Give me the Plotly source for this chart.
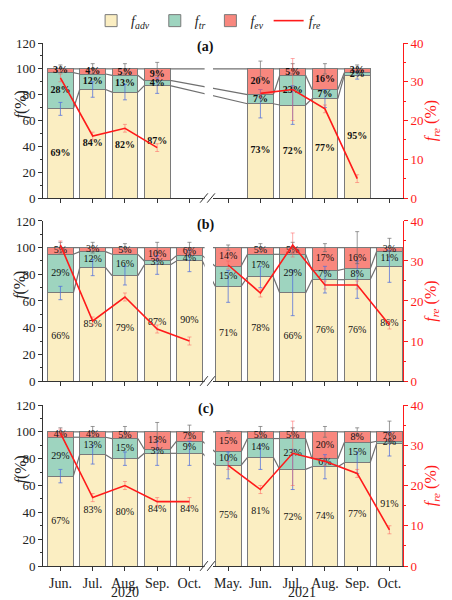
import plotly.graph_objects as go

# ---- data ----
months = ["Jun.", "Jul.", "Aug.", "Sep.", "Oct.", "May.", "Jun.", "Jul.", "Aug.", "Sep.", "Oct."]
years = ["2020", "2021"]
panel_tags = ["(a)", "(b)", "(c)"]

adv_a = [69, 84, 82, 87, None, None, 73, 72, 77, 95, None]
tr_a = [28, 12, 13, 4, None, None, 7, 23, 7, 2, None]
ev_a = [3, 4, 5, 9, None, None, 20, 5, 16, 3, None]
re_a = [31, 16, 18, 13, None, None, 27, 28, 23, 5, None]
adv_err_a = [5, 6, 6, 6, None, None, 11, 15, 7, 3, None]
top_err_a = [3, 4, 4, 5, None, None, 6, 4, 4, 3, None]
re_err_a = [1, 1, 1, 1, None, None, 1, 8, 1, 1, None]

adv_b = [66, 85, 79, 87, 90, 71, 78, 66, 76, 76, 86]
tr_b = [29, 12, 16, 3, 4, 15, 17, 29, 7, 8, 11]
ev_b = [5, 3, 5, 10, 6, 14, 5, 5, 17, 16, 3]
re_b = [34, 15, 21, 13, 10, 29, 22, 34, 24, 24, 14]
adv_err_b = [5, 6, 7, 7, 8, 12, 8, 17, 10, 14, 12]
top_err_b = [4, 4, 3, 4, 4, 2, 3, 4, 3, 12, 7]
re_err_b = [1, 1, 1, 1, 1, 1, 1, 3, 1, 1, 1]

adv_c = [67, 83, 80, 84, 84, 75, 81, 72, 74, 77, 91]
tr_c = [29, 13, 15, 3, 9, 10, 14, 23, 6, 15, 2]
ev_c = [4, 4, 5, 13, 7, 15, 5, 5, 20, 8, 7]
re_c = [33, 17, 20, 16, 16, 25, 19, 28, 26, 23, 9]
adv_err_c = [5, 7, 5, 9, 9, 10, 9, 15, 9, 8, 9]
top_err_c = [3, 4, 4, 7, 5, 1, 4, 3, 4, 3, 8]
re_err_c = [1, 1, 1, 1, 1, 1, 1, 8, 1, 1, 1]

panels = [
    (adv_a, tr_a, ev_a, re_a, adv_err_a, top_err_a, re_err_a),
    (adv_b, tr_b, ev_b, re_b, adv_err_b, top_err_b, re_err_b),
    (adv_c, tr_c, ev_c, re_c, adv_err_c, top_err_c, re_err_c),
]

# ---- styling ----
FONT = "Liberation Serif"
C_ADV = "#FBEEC2"
C_TR = "#9ED4BF"
C_EV = "#F8877E"
C_RE = "#FF1A1A"
EDGE = "#7A7A7A"
BW = 0.8
N20 = 5
pos = [i if i < N20 else i + 0.2 for i in range(len(months))]
domains = [[0.7036, 1.0], [0.3537, 0.6597], [0.0, 0.3078]]

fig = go.Figure()
layout = dict(shapes=[], annotations=[])

for k, (adv, tr, ev, re_, adv_err, top_err, re_err) in enumerate(panels):
    sfx = "" if k == 0 else str(k + 1)
    xa, ya, yr = "x" + sfx, "y" + sfx, "y" + str(k + 4)
    first = k == 0

    for vals, col, nm in [(adv, C_ADV, "<i>f<sub>adv</sub></i>"),
                          (tr, C_TR, "<i>f<sub>tr</sub></i>"),
                          (ev, C_EV, "<i>f<sub>ev</sub></i>")]:
        fig.add_trace(go.Bar(
            x=pos, y=vals, width=BW, name=nm, showlegend=first, legendgroup=nm,
            marker=dict(color=col, line=dict(color=EDGE, width=1)),
            xaxis=xa, yaxis=ya,
        ))

    # connect lines between neighbouring stacked columns
    present = [i for i in range(len(pos)) if adv[i] is not None]
    cx, cy = [], []
    for i, j in zip(present[:-1], present[1:]):
        lv_i = [adv[i], adv[i] + tr[i], adv[i] + tr[i] + ev[i]]
        lv_j = [adv[j], adv[j] + tr[j], adv[j] + tr[j] + ev[j]]
        for a, b in zip(lv_i, lv_j):
            cx += [pos[i] + BW / 2, pos[j] - BW / 2, None]
            cy += [a, b, None]
    fig.add_trace(go.Scatter(x=cx, y=cy, mode="lines", line=dict(color="#707070", width=1.2),
                             showlegend=False, hoverinfo="skip", xaxis=xa, yaxis=ya))

    # error bars
    px_ = [pos[i] for i in present]
    fig.add_trace(go.Scatter(
        x=px_, y=[adv[i] for i in present], mode="markers",
        marker=dict(size=1, color="rgba(0,0,0,0)"), showlegend=False, hoverinfo="skip",
        error_y=dict(type="data", array=[adv_err[i] for i in present], color="rgba(80,110,220,0.75)",
                     thickness=1, width=2),
        xaxis=xa, yaxis=ya))
    fig.add_trace(go.Scatter(
        x=px_, y=[adv[i] + tr[i] + ev[i] for i in present], mode="markers",
        marker=dict(size=1, color="rgba(0,0,0,0)"), showlegend=False, hoverinfo="skip",
        error_y=dict(type="data", array=[top_err[i] for i in present], color="rgba(110,110,110,0.7)",
                     thickness=1, width=2),
        xaxis=xa, yaxis=ya))

    # percentage labels
    tx, ty, tt = [], [], []
    for i in present:
        base = 0
        for v in (adv[i], tr[i], ev[i]):
            tx.append(pos[i])
            ty.append(base + v / 2)
            tt.append(f"<b>{v}%</b>" if first else f"{v}%")
            base += v
    fig.add_trace(go.Scatter(x=tx, y=ty, text=tt, mode="text",
                             textfont=dict(family=FONT, size=10, color="#111"),
                             showlegend=False, hoverinfo="skip", xaxis=xa, yaxis=ya))

    # f_re line, one piece per year
    for seg in (range(0, N20), range(N20, len(pos))):
        idx = [i for i in seg if re_[i] is not None]
        fig.add_trace(go.Scatter(
            x=[pos[i] for i in idx], y=[re_[i] for i in idx], mode="lines",
            line=dict(color=C_RE, width=1.6), name="<i>f<sub>re</sub></i>",
            showlegend=first and seg.start == 0, legendgroup="re",
            error_y=dict(type="data", array=[re_err[i] for i in idx], color="rgba(255,90,90,0.5)",
                         thickness=1, width=2),
            xaxis=xa, yaxis=yr))

    layout["xaxis" + sfx] = dict(
        domain=[0, 1], anchor=ya, range=[-0.54, 10.62], showline=True, linecolor="#333",
        linewidth=1, ticks="outside", ticklen=4, tickcolor="#333", tickvals=pos, ticktext=months,
        showticklabels=(k == 2), showgrid=False, zeroline=False,
        tickfont=dict(family=FONT, size=14, color="#222"),
    )
    layout["yaxis" + sfx] = dict(
        domain=domains[k], anchor=xa, range=[0, 120], dtick=20, showline=True, linecolor="#333",
        linewidth=1, ticks="outside", ticklen=4, tickcolor="#333", showgrid=False, zeroline=False,
        minor=dict(ticks="outside", ticklen=2, dtick=10, tickcolor="#333"),
        tickfont=dict(family=FONT, size=13, color="#222"),
    )
    layout["yaxis" + str(k + 4)] = dict(
        overlaying=ya, anchor=xa, side="right", range=[0, 40], dtick=10, showline=True,
        linecolor=C_RE, linewidth=1, ticks="outside", ticklen=4, tickcolor=C_RE,
        showgrid=False, zeroline=False,
        minor=dict(ticks="outside", ticklen=2, dtick=5, tickcolor=C_RE),
        tickfont=dict(family=FONT, size=13, color=C_RE),
    )

    # axis break
    layout["shapes"].append(dict(type="rect", xref=xa, yref=ya + " domain", x0=4.47, x1=4.73,
                                 y0=-0.02, y1=0.93, fillcolor="white", line_width=0, layer="above"))
    for x0 in (4.33, 4.55):
        layout["shapes"].append(dict(type="line", xref=xa, yref=ya + " domain", x0=x0, x1=x0 + 0.24,
                                     y0=-0.03, y1=0.03, line=dict(color="#333", width=1),
                                     layer="above"))

    ymid = sum(domains[k]) / 2
    layout["annotations"] += [
        dict(text="<b>" + panel_tags[k] + "</b>", x=4.5, y=117, xref=xa, yref=ya, showarrow=False,
             font=dict(family=FONT, size=14, color="#111")),
        dict(text="<i>f</i>(%)", x=-0.062, y=ymid + 0.03, xref="paper", yref="paper", textangle=-90,
             xanchor="center", yanchor="middle", showarrow=False,
             font=dict(family=FONT, size=16, color="#222")),
        dict(text="<i>f<sub>re</sub></i> (%)", x=1.08, y=ymid, xref="paper", yref="paper",
             textangle=-90, xanchor="center", yanchor="middle", showarrow=False,
             font=dict(family=FONT, size=16, color=C_RE)),
    ]

for yr_txt, xc in zip(years, [2, 7.5]):
    layout["annotations"].append(dict(text=yr_txt, x=xc, y=-0.051, xref="x3", yref="paper",
                                      xanchor="center", yanchor="middle", showarrow=False,
                                      font=dict(family=FONT, size=14, color="#222")))

fig.update_layout(
    **layout,
    barmode="stack",
    width=452, height=600,
    margin=dict(l=43, r=49, t=43, b=34, autoexpand=False),
    plot_bgcolor="white", paper_bgcolor="white",
    font=dict(family=FONT, color="#222"),
    legend=dict(orientation="h", x=0.46, y=1.042, xanchor="center", yanchor="middle",
                font=dict(family=FONT, size=14), itemwidth=30, traceorder="normal",
                bgcolor="rgba(0,0,0,0)"),
)

# the page's default body margin would shift the figure by 8px
fig.write_html("out.html", config={"displayModeBar": False},
               post_script="document.body.style.margin='0';")
